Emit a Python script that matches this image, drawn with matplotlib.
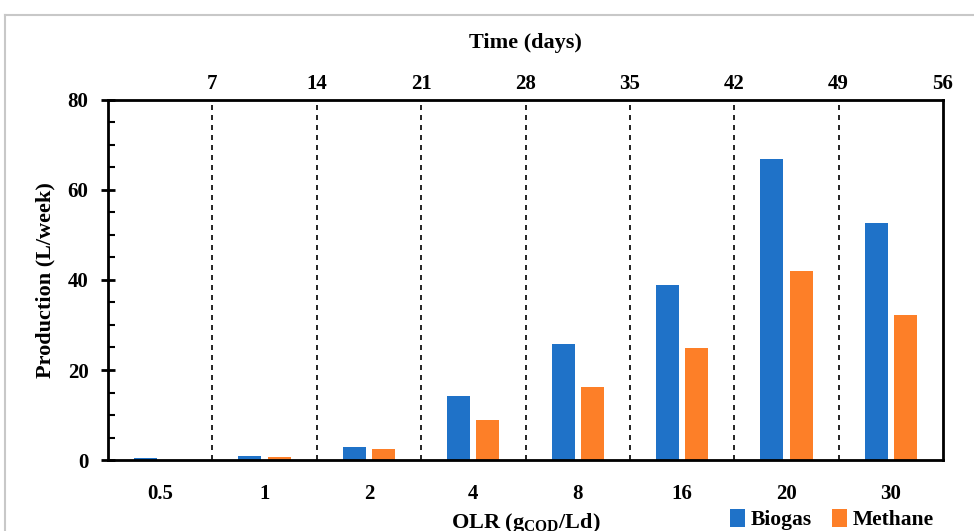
import numpy as np
import matplotlib
matplotlib.use("Agg")
import matplotlib.pyplot as plt
from matplotlib.lines import Line2D
from matplotlib.ticker import MultipleLocator

# OLR categories and weekly production
olr = ["0.5", "1", "2", "4", "8", "16", "20", "30"]
biogas = [0.4, 0.9, 2.9, 14.3, 25.8, 38.9, 66.9, 52.6]
methane = [0.1, 0.6, 2.5, 8.8, 16.3, 24.9, 41.9, 32.3]
days = [7, 14, 21, 28, 35, 42, 49, 56]

plt.rcParams['font.family'] = ['Liberation Serif', 'DejaVu Serif']
plt.rcParams['font.weight'] = 'bold'
plt.rcParams['mathtext.fontset'] = 'custom'
plt.rcParams['mathtext.bf'] = 'Liberation Serif:bold'
plt.rcParams['mathtext.rm'] = 'Liberation Serif:bold'

fig = plt.figure(figsize=(9.74, 5.31), dpi=100)
ax = fig.add_axes([0.1109, 0.1337, 0.8573, 0.678])

x = np.arange(len(olr)) + 0.5
w = 0.22
ax.bar(x - 0.14, biogas, w, color='#1f72c8', label='Biogas')
ax.bar(x + 0.14, methane, w, color='#fd7f28', label='Methane')

# week boundaries
for i in range(1, len(olr)):
    ax.axvline(i, color='black', ls=(0, (3, 3)), lw=1.2, zorder=0)

ax.set_xlim(0, len(olr))
ax.set_ylim(0, 80)
ax.set_xticks(x)
ax.set_xticklabels(olr)
ax.tick_params(axis='x', length=0, pad=17, labelsize=15)
ax.yaxis.set_major_locator(MultipleLocator(20))
ax.yaxis.set_minor_locator(MultipleLocator(5))
ax.tick_params(axis='y', which='major', direction='inout', length=10, width=2, labelsize=15, pad=9)
ax.tick_params(axis='y', which='minor', direction='in', length=5, width=1.5)
for s in ax.spines.values():
    s.set_linewidth(2)

ax.set_ylabel('Production (L/week)', fontsize=16, fontweight='bold', labelpad=9)
ax.set_xlabel('OLR (g$_\\mathbf{COD}$/Ld)', fontsize=16, fontweight='bold', labelpad=5)

top = ax.twiny()
top.set_xlim(0, 56)
top.set_xticks(days)
top.tick_params(axis='x', length=0, pad=4, labelsize=15)
top.set_xlabel('Time (days)', fontsize=16, fontweight='bold', labelpad=19)

fig.legend(loc='center right', bbox_to_anchor=(0.968, 0.022), ncol=2, frameon=False,
           prop={'size': 15.5, 'weight': 'bold'}, handlelength=0.7, handleheight=0.9,
           handletextpad=0.3, columnspacing=0.9, borderaxespad=0)

# light frame of the original figure box
fig.add_artist(Line2D([0.005, 1.0], [0.972, 0.972], color='#c8c8c8', lw=1.5))
fig.add_artist(Line2D([0.005, 0.005], [0.0, 0.972], color='#c8c8c8', lw=1.5))

fig.savefig('out.png', dpi=100)
